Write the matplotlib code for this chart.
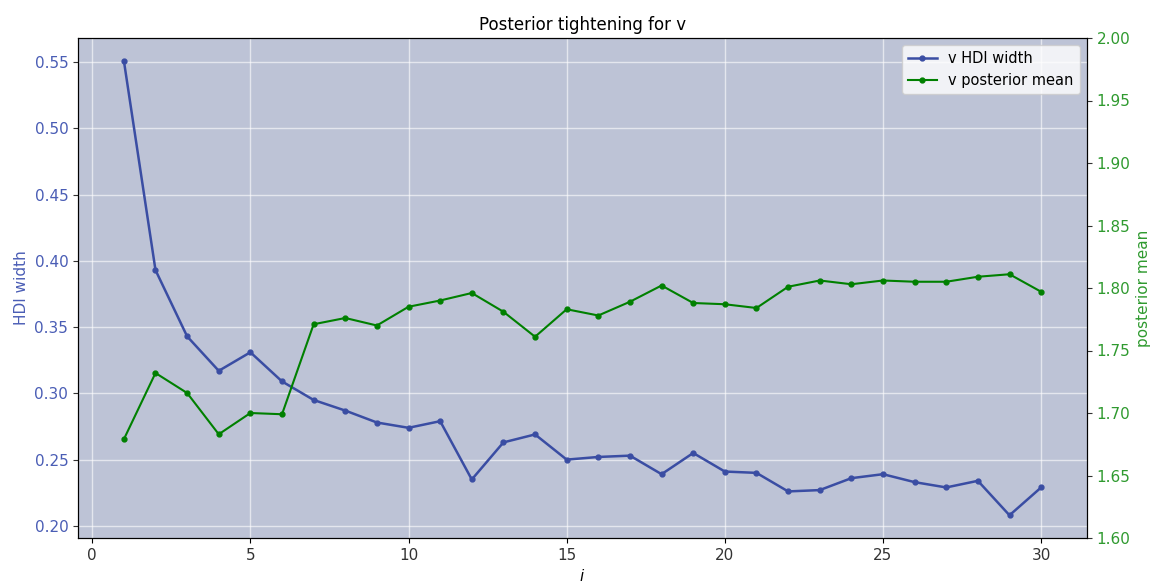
import matplotlib
matplotlib.use("Agg")
import matplotlib.pyplot as plt

# per-iteration summaries of the posterior for v
iterations = list(range(1, 31))
hdi_width = [0.551, 0.393, 0.343, 0.317, 0.331, 0.309, 0.295, 0.287, 0.278, 0.274,
             0.279, 0.235, 0.263, 0.269, 0.250, 0.252, 0.253, 0.239, 0.255, 0.241,
             0.240, 0.226, 0.227, 0.236, 0.239, 0.233, 0.229, 0.234, 0.208, 0.229]
post_mean = [1.679, 1.732, 1.716, 1.683, 1.700, 1.699, 1.771, 1.776, 1.770, 1.785,
             1.790, 1.796, 1.781, 1.761, 1.783, 1.778, 1.789, 1.802, 1.788, 1.787,
             1.784, 1.801, 1.806, 1.803, 1.806, 1.805, 1.805, 1.809, 1.811, 1.797]

blue_line = "#3a4da3"
blue_text = "#4a5db5"
green_line = "green"
green_text = "#2f9a2f"

fig = plt.figure(figsize=(11.51, 5.83), dpi=100)
ax = fig.add_axes([78 / 1151, 1 - 538 / 583, (1087 - 78) / 1151, 500 / 583])
ax.set_facecolor("#bdc3d6")
ax.grid(True, color="white", alpha=0.6, linewidth=1.0)
ax.set_axisbelow(True)

l1, = ax.plot(iterations, hdi_width, marker="o", markersize=3.5, color=blue_line,
              linewidth=1.8, label="v HDI width")
ax.set_ylabel("HDI width", color=blue_text, fontsize=11)
ax.tick_params(axis="y", colors=blue_text, labelsize=11)
ax.tick_params(axis="y", which="both", color="#333333")
ax.tick_params(axis="x", labelsize=11, labelcolor="#333333")
ax.set_xlabel("$i$", fontsize=11)

ax2 = ax.twinx()
l2, = ax2.plot(iterations, post_mean, marker="o", markersize=3.5, color=green_line,
               linewidth=1.5, label="v posterior mean")
ax2.set_ylim(1.6, 2.0)
ax2.set_ylabel("posterior mean", color=green_text, fontsize=11)
ax2.tick_params(axis="y", labelcolor=green_text, color="#333333", labelsize=11)

ax.set_title("Posterior tightening for v", fontsize=12)
ax2.legend(handles=[l1, l2], loc="upper right", fontsize=10.5)

fig.savefig("out.png", dpi=100)
